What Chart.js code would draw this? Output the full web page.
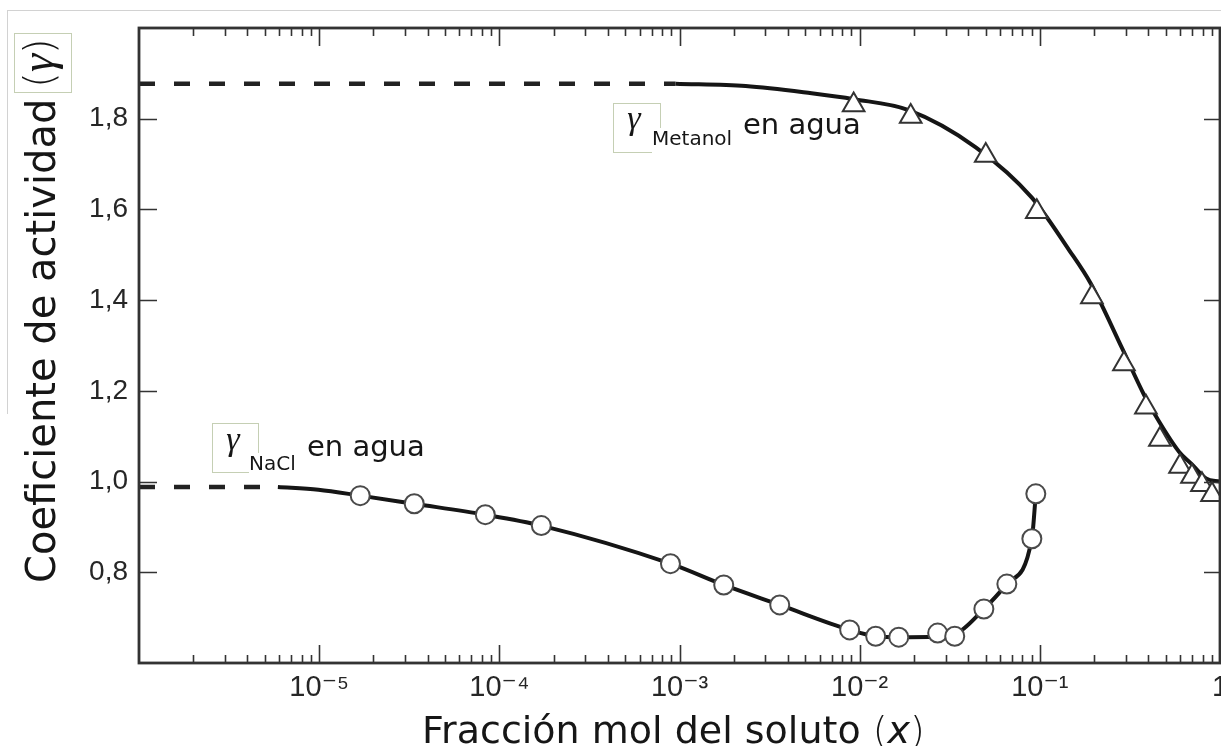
<!DOCTYPE html>
<html>
<head>
<meta charset="utf-8">
<script src="https://cdn.jsdelivr.net/npm/chart.js@4.4.1/dist/chart.umd.min.js"></script>
<style>
html,body{margin:0;padding:0;background:#fff;}
#wrap{position:relative;width:1221px;height:746px;overflow:hidden;background:#fff;}
#frame{position:absolute;left:7px;top:10px;width:1220px;height:403px;border-left:1px solid #d2d2d2;border-top:1px solid #d2d2d2;}
canvas{position:absolute;left:0;top:0;}
.t{position:absolute;white-space:nowrap;font-family:"DejaVu Sans",sans-serif;color:#161616;}
.box{position:absolute;box-sizing:border-box;border:1px solid #c5cfb4;}
.g{font-family:"Liberation Serif","DejaVu Serif",serif;font-style:italic;}
.p{font-weight:200;}
</style>
</head>
<body>
<div id="wrap">
  <div id="frame"></div>
  <canvas id="c" width="1221" height="746"></canvas>

  <!-- y axis title -->
  <div class="t" style="left:21px;top:583px;font-size:40px;line-height:40px;transform-origin:0 0;transform:rotate(-90deg);">Coeficiente de actividad</div>
  <div class="box" style="left:14px;top:33px;width:58px;height:60px;">
    <div class="t" style="left:-2px;top:0px;width:60px;height:58px;line-height:58px;text-align:center;font-size:40px;transform-origin:50% 50%;transform:rotate(-90deg);"><span style="position:relative;top:-5px;"><span class="p">(</span><span class="g" style="font-size:46px;">γ</span><span class="p">)</span></span></div>
  </div>

  <!-- x axis title -->
  <div class="t" style="left:422px;top:711px;font-size:38px;line-height:38px;">Fracción mol del soluto <span class="p">(</span><i>x</i><span class="p">)</span></div>

  <!-- methanol annotation -->
  <div class="box" style="left:613px;top:103px;width:48px;height:50px;"></div>
  <div class="t g" style="left:613px;top:101px;width:42px;text-align:center;font-size:34px;line-height:34px;">γ</div>
  <div class="t" style="left:652px;top:128px;font-size:20px;line-height:20px;background:#fff;padding-bottom:8px;padding-right:2px;">Metanol</div>
  <div class="t" style="left:743px;top:110px;font-size:29px;line-height:29px;">en agua</div>

  <!-- NaCl annotation -->
  <div class="box" style="left:212px;top:423px;width:47px;height:50px;"></div>
  <div class="t g" style="left:212px;top:422px;width:42px;text-align:center;font-size:34px;line-height:34px;">γ</div>
  <div class="t" style="left:249px;top:453px;font-size:20px;line-height:20px;background:#fff;padding-bottom:8px;padding-right:2px;">NaCl</div>
  <div class="t" style="left:307px;top:432px;font-size:29px;line-height:29px;">en agua</div>
</div>

<script>
// ---- data ----
const xTickValues = [1e-5, 1e-4, 1e-3, 1e-2, 1e-1, 1];
const xTickLabels = ['10⁻⁵', '10⁻⁴', '10⁻³', '10⁻²', '10⁻¹', '1'];
const yTickValues = [0.8, 1.0, 1.2, 1.4, 1.6, 1.8];

// methanol in water (triangles)
const methanolX     = [0.00926, 0.0192, 0.0501, 0.0962, 0.1945, 0.293, 0.388, 0.464, 0.600, 0.699, 0.794, 0.903];
const methanolGamma = [1.830, 1.805, 1.719, 1.595, 1.407, 1.259, 1.164, 1.093, 1.033, 1.011, 0.993, 0.971];
// fitted curve for methanol
const methanolCurveX = [0.00095, 0.00233, 0.00541, 0.00926, 0.0187, 0.0441, 0.0903, 0.145, 0.192, 0.286, 0.378, 0.458, 0.592, 0.699, 0.836, 1.0];
const methanolCurveY = [1.877, 1.872, 1.856, 1.843, 1.819, 1.737, 1.626, 1.511, 1.436, 1.294, 1.192, 1.133, 1.066, 1.038, 1.007, 1.000];
// infinite-dilution extrapolation (dashed)
const methanolDashX = [1e-6, 0.00095];
const methanolDashY = [1.877, 1.877];

// NaCl in water (circles)
const naclX     = [1.69e-5, 3.37e-5, 8.36e-5, 1.71e-4, 8.91e-4, 1.76e-3, 3.60e-3, 8.80e-3, 0.01227, 0.01648, 0.0271, 0.0337, 0.0489, 0.0656, 0.0903, 0.0950];
const naclGamma = [0.969, 0.951, 0.927, 0.903, 0.819, 0.772, 0.728, 0.673, 0.659, 0.657, 0.666, 0.659, 0.719, 0.774, 0.874, 0.973];
// fitted curve for NaCl
const naclCurveX = [5.9e-6, 9.9e-6, 1.69e-5, 3.37e-5, 8.36e-5, 1.71e-4, 8.91e-4, 1.76e-3, 3.60e-3, 8.80e-3, 0.01227, 0.01648, 0.0271, 0.0337, 0.0489, 0.0656, 0.0903, 0.0950];
const naclCurveY = [0.988, 0.982, 0.969, 0.951, 0.927, 0.903, 0.819, 0.772, 0.728, 0.673, 0.659, 0.657, 0.658, 0.663, 0.719, 0.774, 0.874, 0.973];
const naclDashX = [1e-6, 5.9e-6];
const naclDashY = [0.988, 0.988];

const pts = (xs, ys) => xs.map((x, i) => ({x: x, y: ys[i]}));

const frameTicks = {
  id: 'frameTicks',
  afterDatasetsDraw(chart) {
    const ctx = chart.ctx, ca = chart.chartArea;
    const xs = chart.scales.x, ys = chart.scales.y;
    ctx.save();
    ctx.strokeStyle = '#333';
    ctx.lineWidth = 1.6;
    ctx.beginPath();
    for (let n = -6; n <= -1; n++) {
      for (let k = 1; k <= 9; k++) {
        const v = k * Math.pow(10, n);
        if (v <= 1e-6 * 1.0001) continue;
        const px = Math.round(xs.getPixelForValue(v)) + 0.5;
        const len = (k === 1) ? 18 : 8;
        ctx.moveTo(px, ca.bottom); ctx.lineTo(px, ca.bottom - len);
        ctx.moveTo(px, ca.top); ctx.lineTo(px, ca.top + len);
      }
    }
    yTickValues.forEach(v => {
      const py = Math.round(ys.getPixelForValue(v)) + 0.5;
      ctx.moveTo(ca.left, py); ctx.lineTo(ca.left + 18, py);
      ctx.moveTo(ca.right, py); ctx.lineTo(ca.right - 16, py);
    });
    ctx.stroke();
    ctx.lineWidth = 2.8;
    ctx.strokeRect(ca.left, ca.top, ca.right - ca.left, ca.bottom - ca.top);
    ctx.restore();
  }
};

const lineStyle = {showLine: true, pointRadius: 0, borderColor: '#151515', borderWidth: 4, cubicInterpolationMode: 'monotone', order: 2, borderCapStyle: 'butt'};

new Chart(document.getElementById('c'), {
  type: 'scatter',
  data: {
    datasets: [
      {label: 'Metanol en agua', data: pts(methanolX, methanolGamma), showLine: false, pointStyle: 'triangle', pointRadius: 12.5, pointBorderWidth: 2, pointBorderColor: '#333', pointBackgroundColor: '#fff', order: 0, clip: false},
      {label: 'NaCl en agua', data: pts(naclX, naclGamma), showLine: false, pointStyle: 'circle', pointRadius: 9.5, pointBorderWidth: 2, pointBorderColor: '#4a4a4a', pointBackgroundColor: '#fff', order: 0, clip: false},
      Object.assign({label: 'Metanol ajuste', data: pts(methanolCurveX, methanolCurveY)}, lineStyle),
      Object.assign({label: 'NaCl ajuste', data: pts(naclCurveX, naclCurveY)}, lineStyle),
      Object.assign({label: 'Metanol dilución infinita', data: pts(methanolDashX, methanolDashY)}, lineStyle, {borderDash: [16, 19], borderWidth: 4.5, borderColor: '#222'}),
      Object.assign({label: 'NaCl dilución infinita', data: pts(naclDashX, naclDashY)}, lineStyle, {borderDash: [16, 19], borderWidth: 4.5, borderColor: '#222'})
    ]
  },
  options: {
    responsive: false,
    animation: false,
    devicePixelRatio: 1,
    layout: {autoPadding: false, padding: {top: 28, right: 1, bottom: 0, left: 0}},
    plugins: {legend: {display: false}, tooltip: {enabled: false}, title: {display: false}},
    scales: {
      x: {
        type: 'logarithmic',
        min: 1e-6, max: 1,
        grid: {display: false, drawTicks: false},
        border: {display: false},
        afterBuildTicks: s => { s.ticks = xTickValues.map(v => ({value: v, major: true})); },
        afterFit: s => { s.height = 83; s.paddingLeft = 0; s.paddingRight = 0; },
        ticks: {
          autoSkip: false, maxRotation: 0, minRotation: 0, padding: 8,
          color: '#262626',
          font: {family: '"Liberation Sans", "DejaVu Sans", sans-serif', size: 29},
          callback: (v, i) => xTickLabels[i]
        }
      },
      y: {
        type: 'linear',
        min: 0.6, max: 2.0,
        grid: {display: false, drawTicks: false},
        border: {display: false},
        afterBuildTicks: s => { s.ticks = yTickValues.map(v => ({value: v})); },
        afterFit: s => { s.width = 139; s.paddingTop = 0; s.paddingBottom = 0; },
        ticks: {
          padding: 11,
          color: '#262626',
          font: {family: '"Liberation Sans", "DejaVu Sans", sans-serif', size: 28},
          callback: v => v.toFixed(1).replace('.', ',')
        }
      }
    }
  },
  plugins: [frameTicks]
});
</script>
</body>
</html>
